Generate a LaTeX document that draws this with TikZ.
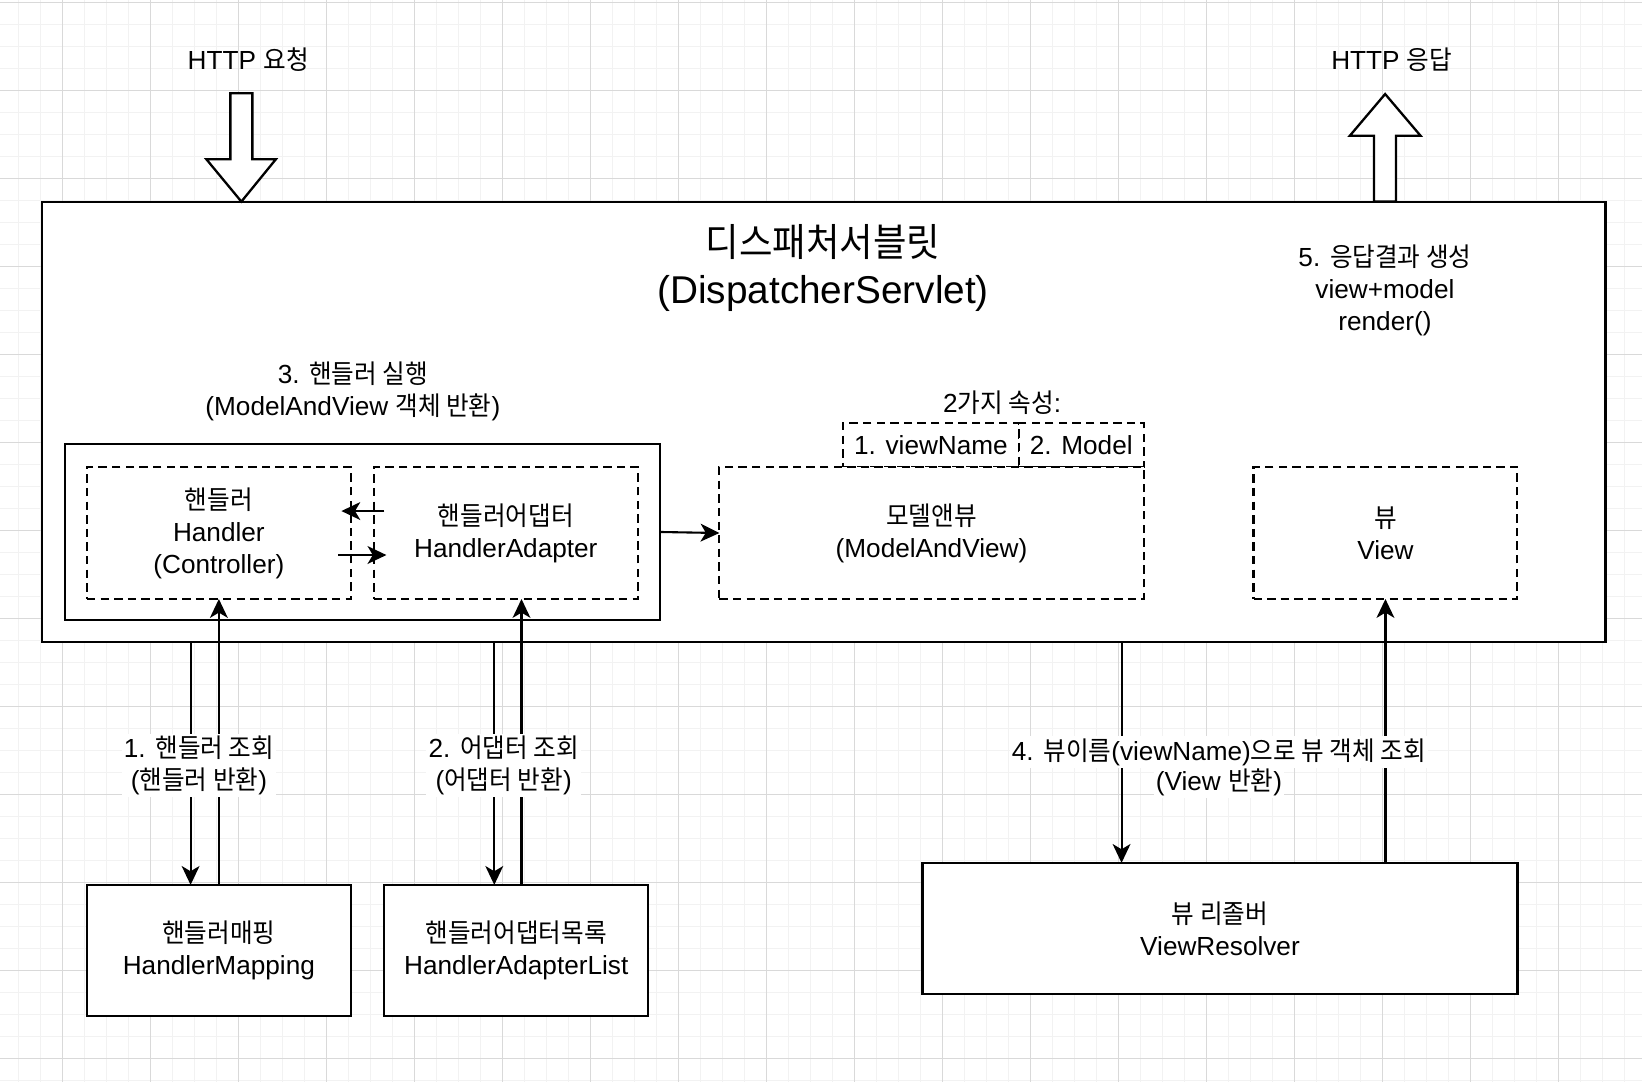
\documentclass[tikz,border=0pt]{standalone}
\usepackage{fontspec}
\setmainfont{Liberation Sans}
\newfontfamily\kr[Scale=1.0,FakeStretch=0.94]{Noto Sans CJK KR}
\usetikzlibrary{calc}
\usetikzlibrary{arrows.meta,positioning}
\newcommand{\nf}{\fontsize{25}{30.5}\selectfont}
\newcommand{\tf}{\fontsize{37}{45}\selectfont}
\tikzstyle{sb}=[draw, line width=2.2pt, fill=white, align=center, inner sep=0pt, outer sep=0pt, font=\nf]
\tikzstyle{db}=[draw, dash pattern=on 8pt off 5pt, line width=2pt, fill=white, align=center, inner sep=0pt, outer sep=0pt, font=\nf]
\tikzstyle{tx}=[align=center, inner sep=0pt, font=\nf]
\tikzstyle{lb}=[fill=white, align=center, inner sep=2pt, font=\nf]
\tikzstyle{ar}=[-{Stealth[length=18pt,width=17pt,inset=5pt]}, line width=2pt]
\tikzstyle{big}=[draw, line width=2.2pt, fill=white, line join=miter]
\tikzstyle{gmin}=[line width=1pt, gray!10]
\tikzstyle{gmaj}=[line width=1pt, gray!30]

\begin{document}
\begin{tikzpicture}[x=1pt,y=-1pt]
\useasboundingbox (0,0) rectangle (1568,1033);
% grid
\foreach \i in {0,...,75} \draw[gmin] ({-3.33+21.01*\i},0) -- ++(0,1033);
\foreach \i in {0,...,49} \draw[gmin] (0,{2.5+21.01*\i}) -- ++(1568,0);
\foreach \i in {-1,...,18} \draw[gmaj] ({59.7+84.04*\i},0) -- ++(0,1033);
\foreach \i in {0,...,12} \draw[gmaj] (0,{2.5+84.04*\i}) -- ++(1568,0);

\node[sb, minimum width=1493, minimum height=420] (ds) at (786.5,403) {};
\node[tx, font=\tf] (ttl) at (786,256) {{\kr 디스패처서블릿}\\(DispatcherServlet)};
\node[tx] (rnd) at (1322.5,277.5) {5. {\kr 응답결과 생성}\\view+model\\render()};

% http in / out
\node[tx] (req) at (237,57) {HTTP {\kr 요청}};
\node[tx] (res) at (1329,57) {HTTP {\kr 응답}};
\draw[big] (220,89) -- (241,89) -- (241,152) -- (263.5,152) -- (230.5,192.5) -- (197,152) -- (220,152) -- cycle;
\draw[big] (1312,192.5) -- (1312,129.6) -- (1289,129.6) -- (1322.7,89.8) -- (1356.5,129.6) -- (1333,129.6) -- (1333,192.5) -- cycle;

% handler part
\node[sb, minimum width=568, minimum height=168] (grp) at (346,508) {};
\node[tx] (run) at ($(grp.north)+(-9,-50)$) {3. {\kr 핸들러 실행}\\(ModelAndView {\kr 객체 반환})};
\node[db, minimum width=252, minimum height=126] (hd) at (209,509) {{\kr 핸들러}\\Handler\\(Controller)};
\node[db, minimum width=252, minimum height=126, right=22pt of hd] (ha) {{\kr 핸들러어댑터}\\HandlerAdapter};

% model and view
\node[tx] (attr) at (957,385) {2{\kr 가지 속성}:};
\node[db, minimum width=168, minimum height=42, anchor=south west] (vn) at (805,446) {1. viewName};
\node[db, minimum width=119, minimum height=42, right=0pt of vn] (md) {2. Model};
\node[db, minimum width=405, minimum height=126] (mv) at (889.5,509) {{\kr 모델앤뷰}\\(ModelAndView)};
\node[db, minimum width=252, minimum height=126] (vw) at (1323,509) {{\kr 뷰}\\View};

% lookups
\node[sb, minimum width=252, minimum height=125] (hm) at (209,907.5) {{\kr 핸들러매핑}\\HandlerMapping};
\node[sb, minimum width=252, minimum height=125, right=32pt of hm] (hl) {{\kr 핸들러어댑터목록}\\HandlerAdapterList};
\node[sb, minimum width=568, minimum height=125] (vr) at (1165,886.5) {{\kr 뷰 리졸버}\\ViewResolver};

\draw[ar] ([shift={(10pt,21pt)}]ha.west) -- ([shift={(-9pt,21pt)}]hd.east);
\draw[ar] ([shift={(-12pt,-21pt)}]hd.east) -- ([shift={(12pt,-21pt)}]ha.west);
\draw[ar] (grp.east) -- (mv.west);
\draw[ar] ([xshift=-27pt]hm.north |- ds.south) -- ([xshift=-27pt]hm.north);
\draw[ar] (hm.north) -- (hd.south);
\draw[ar] ([xshift=-21pt]hl.north |- ds.south) -- ([xshift=-21pt]hl.north);
\draw[ar] ([xshift=5pt]hl.north) -- ([xshift=5pt]hl.north |- ha.south);
\draw[ar] ([xshift=-94pt]vr.north |- ds.south) -- ([xshift=-94pt]vr.north);
\draw[ar] (vr.north -| vw.south) -- (vw.south);

\node[lb] (q1) at (190,731) {1. {\kr 핸들러 조회}\\({\kr 핸들러 반환})};
\node[lb] (q2) at (481,731) {2. {\kr 어댑터 조회}\\({\kr 어댑터 반환})};
\node[lb] (q4) at (1164,718) {4. {\kr 뷰이름}(viewName){\kr 으로 뷰 객체 조회}};
\node[lb] (q4b) at (1164,747) {(View {\kr 반환})};

\end{tikzpicture}
\end{document}
